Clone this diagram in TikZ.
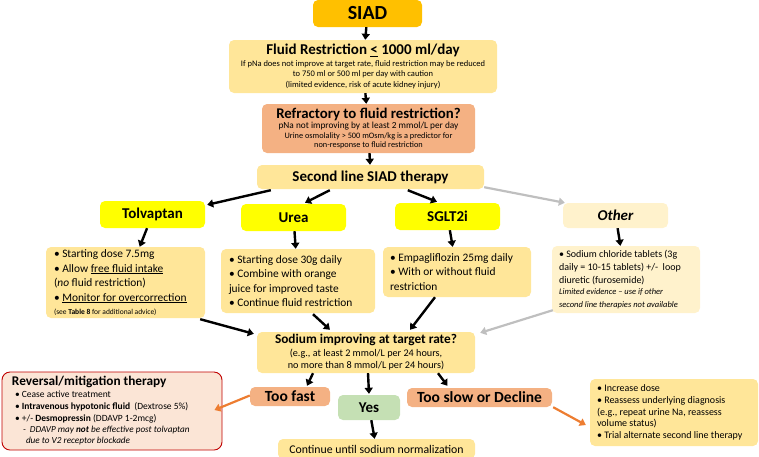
\documentclass[tikz,border=0pt]{standalone}
\usepackage{fontspec}
\setmainfont{Carlito}
\usetikzlibrary{arrows.meta,calc}
\definecolor{cSiad}{HTML}{FFC000}
\definecolor{cPale}{HTML}{FFE699}
\definecolor{cSalmon}{HTML}{F4B183}
\definecolor{cYel}{HTML}{FFFF00}
\definecolor{cCream}{HTML}{FFF2CC}
\definecolor{cGreen}{HTML}{C5E0B4}
\definecolor{cPink}{HTML}{FBE5D6}
\definecolor{cRed}{HTML}{C00000}
\definecolor{cOrange}{HTML}{ED7D31}
\definecolor{cGray}{HTML}{BFBFBF}
\newcommand\fs[2]{\fontsize{#1}{#2}\selectfont}
\begin{document}
\begin{tikzpicture}[x=1pt,y=-1pt,
  box/.style={rounded corners=5pt, inner sep=2pt, align=center},
  lbox/.style={rounded corners=5pt, inner sep=0pt, align=flush left},
  blk/.style={line width=2.4pt, -{Triangle[length=6pt,width=8pt]}},
  gry/.style={line width=2.2pt, draw=cGray, -{Triangle[length=6pt,width=8pt]}},
  org/.style={line width=2.2pt, draw=cOrange, -{Triangle[length=6pt,width=8pt]}}]
\useasboundingbox (0,0) rectangle (759,456);

\node[box, fill=cSiad, minimum width=109pt, minimum height=27pt, font=\fs{20}{22}\bfseries] (siad) at (367.5,13.5) {SIAD};

\node[box, fill=cPale, minimum width=268pt, minimum height=53pt, inner sep=0pt, font=\fs{8.5}{10.8}] (fluid) at (363,66.5)
 {{\fs{15}{17}\bfseries Fluid Restriction \underline{<} 1000 ml/day}\\[1pt]
  If pNa does not improve at target rate, fluid restriction may be reduced\\
  to 750 ml or 500 ml per day with caution\\
  (limited evidence, risk of acute kidney injury)};

\node[box, fill=cSalmon, minimum width=213pt, minimum height=49pt, inner sep=0pt, font=\fs{8.3}{9.6}] (refr) at (368.5,128.5)
 {{\fs{14.8}{17}\bfseries Refractory to fluid restriction?}\\[0.5pt]
  {\fs{9.3}{12}pNa not improving by at least 2 mmol/L per day}\\[0.5pt]
  Urine osmolality > 500 mOsm/kg is a predictor for\\
  non-response to fluid restriction};

\node[box, fill=cPale, minimum width=227pt, minimum height=24pt, font=\fs{15}{17}\bfseries] (second) at (370.5,177) {Second line SIAD therapy};

\node[box, fill=cYel, minimum width=105pt, minimum height=27pt, font=\fs{15}{17}\bfseries] (tolv) at (152.5,214.5) {Tolvaptan};
\node[box, fill=cYel, minimum width=105pt, minimum height=27pt, font=\fs{15}{17}\bfseries] (urea) at (293.5,217.5) {Urea};
\node[box, fill=cYel, minimum width=105pt, minimum height=27pt, font=\fs{15}{17}\bfseries] (sglt) at (447.5,216.5) {SGLT2i};
\node[box, fill=cCream, minimum width=105pt, minimum height=25pt, font=\fs{15}{17}\bfseries\itshape] (other) at (615.5,215.5) {Other};

\node[lbox, fill=cPale, minimum width=159pt, minimum height=71pt, text width=143pt, font=\fs{11.4}{14.5}] (tolvd) at (125.5,282.5)
 {\textbullet\ Starting dose 7.5mg\\
  \textbullet\ Allow \underline{free fluid intake}\\
  (\textit{no} fluid restriction)\\
  \textbullet\ \underline{Monitor for overcorrection}\\[-1.5pt]
  {\fs{7.5}{9}(see \textbf{Table 8} for additional advice)}};

\node[lbox, fill=cPale, minimum width=154pt, minimum height=64pt, text width=138pt, font=\fs{11.4}{14.5}] (uread) at (298,281)
 {\textbullet\ Starting dose 30g daily\\
  \textbullet\ Combine with orange\\
  juice for improved taste\\
  \textbullet\ Continue fluid restriction};

\node[lbox, fill=cPale, minimum width=148pt, minimum height=50pt, text width=134pt, font=\fs{11.4}{14.5}] (sgltd) at (457,272)
 {\textbullet\ Empagliflozin 25mg daily\\
  \textbullet\ With or without fluid\\
  restriction};

\node[lbox, fill=cCream, minimum width=148pt, minimum height=67pt, text width=134pt, font=\fs{10}{12.8}] (otherd) at (626,279.5)
 {\textbullet\ Sodium chloride tablets (3g\\
  daily = 10-15 tablets) +/-\ \ loop\\
  diuretic (furosemide)\\
  {\fs{8.5}{11.2}\itshape Limited evidence -- use if other\\
  second line therapies not available}};

\node[box, fill=cPale, minimum width=218pt, minimum height=41pt, inner sep=0pt, font=\fs{10.2}{12.5}] (sodium) at (366,352.5)
 {{\fs{13.3}{15.5}\bfseries Sodium improving at target rate?}\\
  (e.g., at least 2 mmol/L per 24 hours,\\
  no more than 8 mmol/L per 24 hours)};

\node[box, fill=cSalmon, minimum width=80pt, minimum height=19pt, inner sep=0pt, font=\fs{15.5}{17}\bfseries] (fast) at (290,396.5) {Too fast};
\node[box, fill=cGreen, minimum width=62pt, minimum height=25pt, inner sep=0pt, font=\fs{15}{17}\bfseries] (yes) at (369,407.5) {Yes};
\node[box, fill=cSalmon, minimum width=145pt, minimum height=19pt, inner sep=0pt, font=\fs{15.5}{17}\bfseries] (slow) at (479.5,397.5) {Too slow or Decline};

\node[box, fill=cPale, minimum width=197pt, minimum height=20pt, font=\fs{11.8}{13}] (cont) at (376.5,449) {Continue until sodium normalization};

\node[lbox, fill=cPink, draw=cRed, line width=0.9pt, rounded corners=8pt, minimum width=220pt, minimum height=78pt, text width=200pt, font=\fs{9.5}{11.7}] (rev) at (112,411)
 {{\fs{13.3}{15}\bfseries Reversal/mitigation therapy}\\
  \hspace*{3pt}\textbullet\ Cease active treatment\\
  \hspace*{3pt}\textbullet\ \textbf{Intravenous hypotonic fluid}\ \ (Dextrose 5\%)\\
  \hspace*{3pt}\textbullet\ +/- \textbf{Desmopressin} (DDAVP 1-2mcg)\\
  {\fs{9.2}{11.2}\itshape\hspace*{11pt}-\ \ DDAVP may \textbf{not} be effective post tolvaptan\\
  \hspace*{14pt}due to V2 receptor blockade}};

\node[lbox, fill=cPale, minimum width=168pt, minimum height=67pt, text width=154pt, font=\fs{10}{11.8}] (rightd) at (674,412.5)
 {\textbullet\ Increase dose\\
  \textbullet\ Reassess underlying diagnosis\\
  (e.g., repeat urine Na, reassess\\
  volume status)\\
  \textbullet\ Trial alternate second line therapy};

% connectors
\draw[blk] (siad) -- (fluid);
\draw[blk] (fluid) -- (refr);
\draw[blk] (refr) -- (second);
\draw[blk] ($(second.south west)+(14,1)$) -- ($(tolv.north east)+(2,4)$);
\draw[blk] ($(second.south west)+(73,1)$) -- ($(urea.north)+(11.5,-1)$);
\draw[blk] ($(second.south west)+(151,1)$) -- ($(sglt.north)+(-10.5,-1)$);
\draw[gry] ($(second.south east)+(0,-2)$) -- ($(other.north west)+(2,0)$);
\draw[blk] (tolv) -- (tolvd);
\draw[blk] (urea) -- (uread);
\draw[blk] (sglt) -- (sgltd);
\draw[blk] (other) -- (otherd);
\draw[blk] ($(tolvd.south east)+(-5,1)$) -- ($(sodium.north west)+(-3,2)$);
\draw[blk] ($(uread.south)+(15,1)$) -- ($(sodium.north)+(-36,-2)$);
\draw[blk] ($(sgltd.south)+(-22,0)$) -- ($(sodium.north)+(44,-2)$);
\draw[gry] ($(otherd.south west)+(1,-3)$) -- ($(sodium.north east)+(5,1)$);
\draw[blk] ($(sodium.south)+(-53,0)$) -- ($(fast.north)+(17,-1)$);
\draw[blk] ($(sodium.south)+(2,0)$) -- ($(yes.north)+(0,-1)$);
\draw[blk] ($(sodium.south)+(72,0)$) -- ($(slow.north)+(-32,-2)$);
\draw[blk] (yes) -- (cont);
\draw[org] ($(fast.west)+(0,-1)$) -- ($(rev.east)+(-8,-1)$);
\draw[org] ($(slow.south east)+(1,0)$) -- ($(rightd.west)+(-4,12.5)$);
\end{tikzpicture}
\end{document}
